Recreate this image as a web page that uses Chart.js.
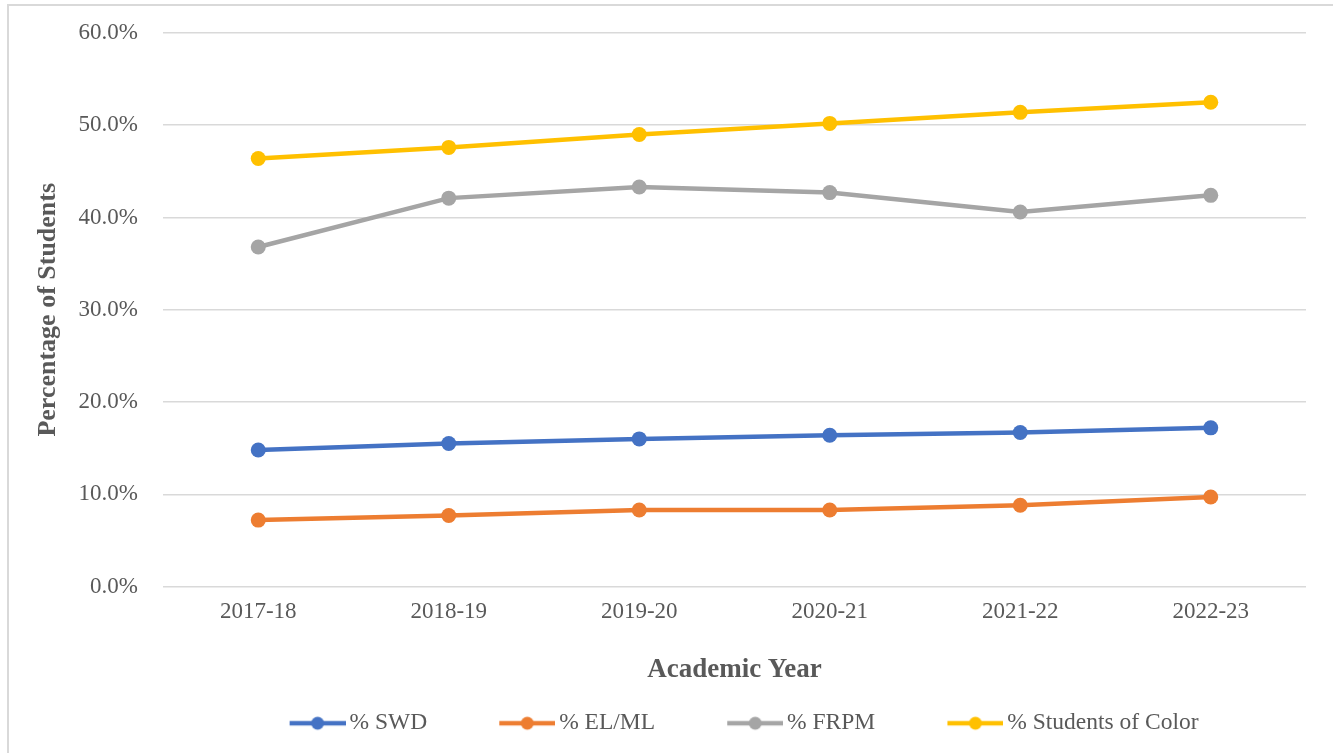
<!DOCTYPE html>
<html>
<head>
<meta charset="utf-8">
<script src="https://cdn.jsdelivr.net/npm/chart.js@4/dist/chart.umd.min.js"></script>
<style>
  html, body { margin: 0; padding: 0; background: #fff; }
  #wrap { position: relative; width: 1333px; height: 753px; }
  #frame { position: absolute; left: 7px; top: 4px; width: 1400px; height: 800px; border-left: 2px solid #d9d9d9; border-top: 2px solid #d9d9d9; pointer-events: none; }
  canvas { position: absolute; left: 0; top: 0; }
</style>
</head>
<body>
<div id="wrap">
  <canvas id="c" width="1333" height="753"></canvas>
  <div id="frame"></div>
</div>
<script>
const years = ['2017-18', '2018-19', '2019-20', '2020-21', '2021-22', '2022-23'];
const swd = [14.8, 15.5, 16.0, 16.4, 16.7, 17.2];
const elml = [7.2, 7.7, 8.3, 8.3, 8.8, 9.7];
const frpm = [36.8, 42.1, 43.3, 42.7, 40.6, 42.4];
const soc = [46.4, 47.6, 49.0, 50.2, 51.4, 52.5];
const seriesNames = ['% SWD', '% EL/ML', '% FRPM', '% Students of Color'];
const colors = ['#4472C4', '#ED7D31', '#A5A5A5', '#FFC000'];
const yTicks = [0, 10, 20, 30, 40, 50, 60];

const FONT = '"Liberation Serif", "Times New Roman", serif';
const TXT = '#595959';

function legendImage(color) {
  const cv = document.createElement('canvas');
  cv.width = 126; cv.height = 16;
  const g = cv.getContext('2d');
  g.strokeStyle = color; g.lineWidth = 4.5; g.lineCap = 'butt';
  g.beginPath(); g.moveTo(70, 8); g.lineTo(126, 8); g.stroke();
  g.fillStyle = color;
  g.beginPath(); g.arc(98, 8, 6.5, 0, Math.PI * 2); g.fill();
  return cv;
}
const legendImgs = colors.map(legendImage);

const allSeries = [swd, elml, frpm, soc];
const datasets = allSeries.map((d, i) => ({
  label: seriesNames[i],
  data: d,
  borderColor: colors[i],
  backgroundColor: colors[i],
  borderWidth: 4.5,
  pointRadius: 7.5,
  pointHoverRadius: 7.5,
  pointBorderWidth: 0,
  pointBackgroundColor: colors[i],
  tension: 0,
  fill: false
}));

const legendShift = {
  id: 'legendShift',
  afterLayout(chart) {
    if (chart.legend) { chart.legend.left += 50; chart.legend.right += 50; }
  }
};

new Chart(document.getElementById('c'), {
  type: 'line',
  data: { labels: years, datasets: datasets },
  plugins: [legendShift],
  options: {
    responsive: false,
    animation: false,
    layout: { padding: { left: 20, right: 27, top: 33, bottom: 8 } },
    scales: {
      x: {
        offset: true,
        grid: { display: false, drawTicks: false },
        border: { display: false },
        ticks: { color: TXT, font: { family: FONT, size: 23 }, padding: 12 },
        title: { display: true, text: 'Academic Year', color: TXT, font: { family: FONT, size: 27, weight: 'bold' }, padding: { top: 16, bottom: 15 } }
      },
      y: {
        min: 0, max: 60,
        afterBuildTicks: (s) => { s.ticks = yTicks.map(v => ({ value: v })); },
        afterFit: (s) => { s.width = 143; s.paddingTop = 0; s.paddingBottom = 0; },
        grid: { color: '#d9d9d9', lineWidth: 1.5, drawTicks: false },
        border: { display: false },
        ticks: { color: TXT, font: { family: FONT, size: 23 }, padding: 25, callback: (v) => v.toFixed(1) + '%' },
        title: { display: true, text: 'Percentage of Students', color: TXT, font: { family: FONT, size: 26, weight: 'bold' }, padding: { top: 13, bottom: 0 } }
      }
    },
    plugins: {
      tooltip: { enabled: false },
      legend: {
        position: 'bottom',
        labels: {
          usePointStyle: true,
          pointStyleWidth: 110.25,
          padding: 10,
          color: TXT,
          font: { family: FONT, size: 23.5 },
          generateLabels: (chart) => {
            const items = Chart.defaults.plugins.legend.labels.generateLabels(chart);
            items.forEach((it, i) => { it.pointStyle = legendImgs[i]; it.fontColor = TXT; });
            return items;
          }
        }
      }
    }
  }
});
</script>
</body>
</html>
